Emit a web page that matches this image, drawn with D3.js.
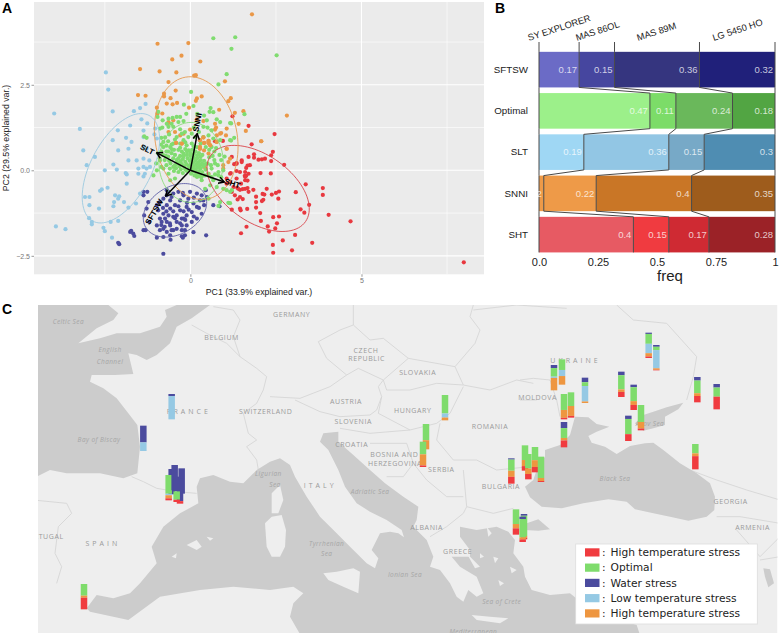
<!DOCTYPE html>
<html><head><meta charset="utf-8">
<script src="https://cdn.jsdelivr.net/npm/d3@7"></script>
<style>html,body{margin:0;padding:0;background:#fff}svg{display:block}text{font-family:"Liberation Sans",Arial,sans-serif}</style>
</head><body><svg id="c" width="783" height="635"></svg>
<script>
// ---------- Panel A data (PC1, PC2) ----------
const ptsSHT=[[2.41,.54],[2.36,.44],[1.86,.47],[1.99,.31],[2.09,.32],[2.18,.34],[2.36,.27],[2.74,.16],[1.86,.37],[1.74,.15],[1.67,.14],[1.63,.07],[1.35,.21],[1.28,.18],[1.5,.29],[1.21,.39],[1.35,-.02],[1.18,-.08],[2.05,-.08],[2.35,-.09],[1.59,-.16],[1.63,-.16],[1.67,-.3],[1.6,-.29],[1.35,-.24],[1.48,-.39],[1.67,-.52],[1.6,-.54],[1.53,-.55],[1.45,-.57],[1.37,-.51],[1.84,-.57],[2.23,-.54],[3.37,-.41],[3.87,-.52],[3.87,-.72],[3.08,-.64],[2.59,-.62],[2.5,-.66],[2.38,-.71],[2.11,-.69],[2.16,-.71],[1.92,-.77],[1.3,-.73],[1.38,-.85],[1.53,-.84],[1.92,-.93],[2.09,-.9],[2.13,-.86],[2.57,-.83],[1.21,-1.15],[1.47,-1.17],[1.66,-1.13],[1.92,-1.09],[2.04,-1.25],[3.22,-1.14],[3.33,-1.24],[3.47,-1.01],[4.04,-1.3],[4.68,-1.49],[2.59,-1.35],[2.42,-1.37],[2.06,-1.48],[2.53,-1.55],[2.26,-1.64],[2.48,-1.7],[2.3,-1.79],[1.64,-1.65],[1.48,-1.84],[3.06,-1.89],[2.7,-2.05],[3.56,-2.12],[2.41,-2.18],[2.97,-2.34],[2.42,-2.41],[7.99,-2.69],[1.23,1.58],[1.7,1.3],[2.46,1.06],[1.79,.76],[.72,.85],[.95,.86],[1.06,-.24],[1.16,-.1],[1.35,.19],[1.5,.24],[1.7,.39],[1.16,-.34],[1.26,-.49],[1.4,-.54],[1.45,-.05],[1.6,-.05],[1.7,-.1],[1.6,-.19],[1.06,-.39],[1.21,-.63],[1.45,-1.12],[1.45,-.78],[1.7,-.63]];
const ptsSNNI=[[-.96,3.7],[-.06,3.72],[-.53,3.24],[-.26,3.35],[.29,3.18],[-1.47,2.96],[-.9,2.89],[-.41,2.86],[.11,2.77],[.16,2.78],[-.64,2.58],[1.01,2.6],[-1.53,2.2],[-1.31,2.18],[-.43,2.33],[-.77,2.24],[-.77,2.16],[-.58,2.11],[.19,2.1],[.33,2.16],[.16,2.03],[1.18,2.11],[1.11,2.02],[-.69,1.95],[-.52,1.93],[-.39,1.97],[-.04,1.83],[.84,1.77],[1.55,1.73],[1.3,1.68],[-.98,1.83],[-.82,1.66],[-.96,1.66],[.72,1.36],[.75,1.25],[1.41,1.36],[1.62,1.15],[1.06,1.22],[.9,1.09],[.77,1.02],[1.04,1.02],[-.64,1.41],[-.45,1.12],[-.64,1.12],[.19,1.49],[.38,1.44],[.4,.8],[.53,.8],[.58,.73],[.28,.68],[.77,.83],[1.06,.63],[1.8,4.56],[2.82,1.6],[2.07,.85],[-.01,1.19],[-.2,1.07],[-.3,1.02],[-.25,.78],[-.42,.8],[.28,.88],[.38,.96],[.53,.86],[.28,.63],[.4,.58],[.53,.49],[.87,1.07],[.72,1.19],[1.16,.34],[1.11,.24],[.96,.15],[-.5,1.46],[-.64,1.38],[.43,.07],[.53,-.1],[.96,.05]];
const ptsOptimal=[[.67,3.86],[1.31,3.89],[1.2,3.55],[1.06,2.81],[.82,2.51],[.02,2.29],[2.52,3.36],[1.58,1.64],[1.19,1.37],[1.28,.95],[1.19,.87],[-.19,1.92],[.09,1.88],[.59,1.82],[.56,1.71],[.67,1.7],[-.94,1.71],[-.96,1.56],[-.81,1.46],[.48,1.46],[.77,1.49],[1.16,1.38],[.87,1.41],[-.82,1.25],[-.89,1.22],[-1.28,.95],[-1.35,.99],[-.64,1.51],[-.52,1.53],[-.4,1.56],[-.3,1.56],[-.55,1.36],[-.35,1.41],[-.2,1.44],[-.69,1.36],[-.64,1.27],[-.5,1.27],[-.74,.96],[-.79,.83],[-.4,.97],[-.25,1.07],[-.16,1.12],[-.06,.97],[.04,1.07],[.14,.97],[.38,1.27],[.62,1.17],[.53,1.02],[.67,.93],[.87,.88],[1.16,.88],[-.79,.68],[-.59,.68],[-.5,.78],[-.3,.78],[-.2,.88],[-.11,.73],[.04,.78],[.19,.68],[.38,.97],[-1.08,-.15],[-.98,0],[-.89,.29],[-.79,.05],[-.64,-.1],[-.5,.1],[-.59,-.29],[-.45,-.24],[-.35,.19],[.19,-.19],[.33,-.29],[.53,-.15],[.67,-.29],[.77,-.49],[.58,-.44],[.87,-.93],[.43,-.54],[1.06,-.58],[1.16,-.63],[1.16,-.96],[.96,0],[.82,-.15],[.53,-.83],[.82,-1.04],[1.11,-.95],[1.21,-.58],[.96,-.54],[-.35,.6],[-.25,.55],[-.15,.62],[-.05,.58],[.05,.6],[.15,.55],[.25,.5],[.35,.45],[-.3,.42],[-.2,.4],[-.1,.45],[0,.42],[.1,.38],[.2,.35],[.3,.3],[.4,.28],[-.4,.3],[-.28,.27],[-.15,.25],[-.02,.28],[.08,.22],[.18,.18],[.28,.15],[.38,.12],[.5,.2],[.6,.15],[.7,.3],[.65,.42],[.55,.38],[-.45,.15],[-.32,.12],[-.18,.1],[-.05,.12],[.05,.05],[.15,.02],[.25,-.02],[.35,-.05],[.45,.02],[-.6,.05],[-.48,-.02],[-.35,-.05],[-.22,-.08],[-.1,-.02],[.02,-.1],[.12,-.15],[.22,-.18],[.32,-.2],[.42,-.15],[.52,-.1],[.62,-.2],[.72,-.12],[.82,-.05],[.9,-.2],[.8,.15],[.9,.3],[1,.4],[.7,.55],[.55,.6],[-.55,.5],[-.65,.4],[-.75,.3],[-.8,.45],[-.9,.35],[-1,.2],[-.85,.1],[-.7,.15],[-.58,.2],[-.55,.62],[-.7,.55],[-.85,.55],[-.95,.5],[-.3,.66],[-.2,.49],[-.1,.55],[0,.5],[.1,.48],[.2,.44],[.3,.4],[-.35,.35],[-.22,.33],[-.08,.35],[.04,.32],[.14,.28],[.24,.24],[.34,.2],[.44,.18],[-.38,.22],[-.25,.18],[-.12,.18],[0,.18],[.1,.12],[.2,.08],[.3,.05],[-.42,.06],[-.28,.03],[-.15,.02],[-.02,.03],[.08,-.03],[.18,-.08],[.28,-.12],[-.5,.35],[-.62,.28],[-.72,.42],[-.65,.55],[-.45,.45],[-.48,.6],[-.55,.75],[-.65,.85],[-.45,.9],[-.15,.82],[.1,.7],[.3,.78],[.45,.68],[.62,.68],[.75,.65],[.62,.05],[.72,.2],[.85,.45],[-.85,.75],[-.7,.72],[-.62,1.05],[-.85,.95],[-.3,1.2],[.1,1.25],[.25,1.12],[.5,1.25],[.2,1.65],[.4,1.6],[-.12,1.65]];
const ptsSLT=[[-2.47,2.86],[-2.4,2.36],[-3.98,1.66],[-3.23,1.21],[-2.27,1.72],[-1.65,1.73],[-1.47,1.82],[-1.31,1.94],[-3.13,.58],[-2.12,1.17],[-1.43,1.49],[-1.26,1.37],[-1.76,1.31],[-1.37,1.16],[-1.05,1.05],[-1.03,1.22],[-2.27,.88],[-1.88,.95],[-1.72,.83],[-1.37,.97],[-1.37,.68],[-2.11,.58],[-1.81,.63],[-1.28,.63],[-.98,.93],[-2.79,.39],[-3.03,.15],[-2.25,.17],[-2.15,.02],[-2.5,0],[-1.81,.29],[-1.57,.29],[-1.37,.34],[-1.2,.29],[-1.52,.05],[-1.52,-.1],[-1.37,.1],[-1.28,.05],[-1.18,.1],[-1.33,-.1],[-1.37,-.18],[-1.89,-.08],[-1.86,-.12],[-2.42,-.51],[-2.59,-.56],[-2.64,-.6],[-1.86,-.39],[-2.2,-.73],[-2.08,-.76],[-2.11,-.83],[-2.23,-.93],[-2.25,-1.05],[-1.94,-.93],[-1.81,-1.09],[-3.08,-.78],[-2.95,-.78],[-2.95,-1.02],[-2.67,-1.12],[-1.59,-.97],[-1.47,-.68],[-2.96,-1.4],[-2.88,-1.51],[-2.88,-1.58],[-2.33,-1.51],[-2.11,-1.48],[-2.54,-1.68],[-2.5,-1.78],[-2.29,-1.97],[-3.93,-1.64],[-3.65,-1.72]];
const ptsSFTSW=[[-1.37,-.63],[-1.26,-.63],[-1.37,-.73],[-1.23,-.93],[-1.28,-1.12],[-1.35,-1.32],[-1.2,-1.51],[-1.37,-1.75],[-1.31,-1.75],[-1.73,-1.77],[-1.67,-1.85],[-1.64,-1.92],[-1.76,-1.8],[-2.11,-2.12],[-2.08,-2.16],[-.79,-2.44],[-.98,-1.97],[-.58,-2.03],[-.22,-1.97],[.46,-1.9],[.09,-1.81],[-.25,-1.93],[-.16,-1.9],[-.59,-1.9],[-.79,-1.95],[-.89,-1.75],[-.69,-1.8],[-.98,-1.61],[-.79,-1.71],[-.89,-1.41],[-.84,-1.51],[-.74,-1.41],[-.69,-1.51],[-.59,-1.61],[-.5,-1.75],[-.4,-1.71],[-.25,-1.75],[-.11,-1.61],[.04,-1.51],[.19,-1.41],[.33,-1.27],[.4,-1.02],[.28,-.88],[.19,-1.07],[.04,-1.22],[-.11,-1.32],[-.25,-1.41],[-.4,-1.51],[-.5,-1.36],[-.64,-1.32],[-.79,-1.27],[-.94,-1.17],[-.98,-1.02],[-.89,-.93],[-.79,-.83],[-.69,-.73],[-.59,-.88],[-.45,-1.02],[-.3,-.88],[-.2,-.73],[-.06,-.83],[.09,-.97],[-.11,-1.07],[-.59,-1.12],[-.5,-.68],[-.35,-.63],[-.22,-.66],[-.69,-1.02],[.19,-.68],[.33,-.73],[.38,-.88],[-.64,-.63],[-.55,-.78],[-.3,-1.17],[-.25,-1.61],[-.4,-1.32],[-.16,-1.75],[-.69,-.58],[-.01,-.63],[.48,-.78],[.67,-1.02],[.45,-.58],[.85,-1.05],[-.19,-1.41],[-.5,-1.2],[-.35,-1.05],[-.2,-1.2],[-.05,-1.15],[-.6,-1.55],[-.45,-1.4],[-.3,-1.55],[-.15,-1.45],[.1,-1.35],[-.8,-1.1],[-.7,-1.2],[.25,-1.1],[.1,-.8],[-.1,-.95],[-.75,-1.65],[-.55,-1.75],[-.85,-1.6]];
// ellipses: centre PC1, centre PC2, major, minor, angle
const ellSNNI=[.17,.94,1.81,1.2,100], ellSLT=[-2.03,.06,1.75,.88,62], ellSFTSW=[-.45,-1.17,.99,.7,30], ellSHT=[1.98,-.53,1.69,.98,-35], ellOptimal=[.02,.23,1.17,.94,90];
// loadings
const arrowNames=["SHT","SNNI","SLT","SFTSW"];
const arrowX=[.99,.2,-.98,-.72], arrowY=[-.34,1.07,.51,-.75];
const labelX=[1.23,.2,-1.26,-1.06], labelY=[-.38,1.40,.61,-1.21];
const labelAngle=[18,-79,27,-60];
const xTicksA=[0,5], yTicksA=[-2.5,0,2.5], xMinorA=[-2.5,2.5,7.5], yMinorA=[-1.25,1.25,3.75];
// ---------- Panel B data ----------
const rowsB=["SFTSW","Optimal","SLT","SNNI","SHT"];
const colsB=["SY EXPLORER","MAS 86OL","MAS 89M","LG 5450 HO"];
const valSYExplorer=[.17,.47,.19,.02,.4];
const valMAS86OL=[.15,.11,.36,.22,.15];
const valMAS89M=[.36,.24,.15,.4,.17];
const valLG5450HO=[.32,.18,.3,.35,.28];
const ticksB=[0,.25,.5,.75,1], tickLabelsB=["0.0","0.25","0.5","0.75","1"];
const topLabelAnchor=[.0,.169,.318,.685];
// ---------- Panel C data: sites in map-grid units, shares stacked top to bottom ----------
const stressKeys=["water","optimal","low","highO","highR"];
const siteX=[515,430,515,506,524,545,540,530,252,1335,1278,1269,1534,1575,1585,1605,1623,1662,1686,1692,1713,1692,1755,1864,1901,1885,1923,1946,1969,2092,2150,2086,1548,1572,1568];
const siteY=[282,377,507,525,495,505,535,530,852,285,372,425,475,436,462,441,470,195,178,282,277,366,233,215,254,347,315,98,135,231,252,432,628,642,650];
const shareWater=[.08,.66,1,0,1,1,.9,.58,0,0,0,0,.05,0,0,0,0,.12,0,0,0,.24,.18,.14,.1,.13,0,.05,.07,.14,.14,0,0,.07,.1];
const shareOptimal=[0,0,0,.74,0,0,0,.33,.46,.73,.64,.5,.44,.58,.57,.52,.84,.34,.42,.63,.54,.39,.15,.56,.55,.6,.67,.39,.13,.5,.36,.37,.58,.8,.72];
const shareLow=[.92,.34,0,.06,0,0,0,0,0,.16,0,0,0,0,0,0,0,.05,.24,0,0,0,.61,0,0,0,0,.37,.72,0,0,0,0,0,0];
const shareHighO=[0,0,0,.12,0,0,0,0,.08,.11,.36,.44,.24,.24,.22,.27,.12,.49,.34,.31,.39,.1,.06,.1,.15,0,.26,.13,.06,.11,0,.11,.17,.07,.08];
const shareHighR=[0,0,0,.08,0,0,.1,.09,.46,0,0,.06,.27,.18,.21,.21,.04,0,0,.06,.07,.27,0,.2,.2,.27,.07,.06,.02,.25,.5,.52,.25,.06,.1];
const legendLabels=["High temperature stress","Optimal","Water stress","Low temperature stress","High temperature stress"];
// map outlines in grid units
const seaAtlantic=[[100,0],[325,0],[325,15],[355,40],[340,60],[290,85],[235,130],[300,115],[350,100],[420,100],[480,80],[500,50],[495,30],[530,15],[540,0],[640,0],[630,15],[575,55],[530,80],[510,130],[470,165],[440,180],[410,165],[385,160],[400,222],[345,225],[275,225],[270,245],[310,265],[350,295],[385,340],[412,375],[420,440],[412,520],[370,535],[300,520],[200,520],[150,510],[100,535]];
const seaMed=[[595,610],[590,560],[600,535],[640,525],[690,545],[730,550],[770,510],[810,485],[840,475],[870,495],[885,530],[920,590],[960,650],[1010,700],[1060,750],[1100,790],[1125,805],[1135,775],[1115,750],[1140,700],[1170,695],[1195,700],[1212,712],[1205,690],[1160,660],[1110,635],[1070,610],[1035,560],[1015,510],[985,450],[960,425],[970,400],[1015,395],[1015,425],[1060,465],[1110,510],[1155,550],[1210,590],[1255,620],[1250,660],[1240,680],[1280,720],[1300,770],[1290,800],[1320,810],[1350,850],[1370,890],[1390,905],[1405,870],[1430,890],[1450,880],[1430,830],[1380,800],[1355,770],[1410,770],[1410,750],[1380,710],[1380,680],[1430,690],[1490,680],[1525,695],[1545,720],[1540,760],[1570,800],[1575,830],[1595,870],[1650,885],[1710,880],[1760,920],[1830,950],[1910,975],[1925,1020],[910,1020],[870,950],[880,910],[910,880],[880,860],[810,870],[700,860],[600,870],[480,890],[385,960],[270,935],[260,925],[290,885],[340,895],[390,880],[420,850],[470,790],[455,740],[490,680],[540,640]];
const seaBlack=[[1725,350],[1765,352],[1790,372],[1828,380],[1790,395],[1765,408],[1775,428],[1815,440],[1850,462],[1890,438],[1935,430],[1960,428],[1990,450],[2040,490],[2090,520],[2130,550],[2145,590],[2143,630],[2120,650],[2065,662],[2010,650],[1960,640],[1905,628],[1880,605],[1825,598],[1750,610],[1685,625],[1625,620],[1590,592],[1575,560],[1600,540],[1610,510],[1635,470],[1635,450],[1680,435],[1710,405]];
const seaAzov=[[1905,370],[1930,345],[1960,335],[2000,322],[2050,308],[2035,328],[1995,350],[1995,375],[1960,385],[1930,392]];
const seaMarmara=[[1580,670],[1615,658],[1650,688],[1615,692],[1575,690]];
const seaVan=[[2290,805],[2310,808],[2322,850],[2305,862],[2295,830]];
const islands=[[[795,670],[815,650],[845,645],[858,690],[855,740],[840,770],[815,770],[800,740]],[[815,580],[840,555],[850,600],[835,640],[815,640]],[[970,820],[1010,815],[1060,805],[1080,815],[1075,880],[1030,860],[985,840]],[[560,735],[590,720],[605,740],[590,750]],[[620,710],[640,715],[630,722]],[[515,770],[530,760],[528,775]],[[1415,945],[1470,950],[1525,955],[1500,970],[1430,960]],[[1460,680],[1475,700],[1465,710]],[[1480,770],[1495,775],[1485,790]],[[1530,800],[1550,810],[1535,820]],[[1440,760],[1452,770],[1440,775]],[[1495,840],[1512,850],[1500,858]],[[1400,760],[1440,800],[1425,805]]];
const borders=[[[395,530],[430,545],[470,565],[530,575],[590,580]],[[100,600],[200,610],[215,640],[175,680],[165,760],[185,800],[170,850]],[[575,75],[620,100],[680,130],[720,170],[770,205],[800,230]],[[640,20],[700,30],[720,60],[700,110],[720,170]],[[800,230],[790,270],[770,310],[730,340],[745,400],[770,420],[740,440],[770,480],[775,510]],[[955,125],[1020,90],[1060,75],[1110,120],[1150,115],[1225,175]],[[955,125],[980,175],[1040,225],[1075,205],[1150,240],[1225,175]],[[1060,75],[1060,15]],[[810,290],[900,295],[990,260],[1040,225]],[[1150,240],[1135,260],[1145,290],[1130,330],[1110,345],[1020,350],[960,335],[885,300]],[[1150,240],[1160,270],[1230,270],[1310,250],[1390,255],[1365,200],[1225,175]],[[1145,290],[1135,340],[1230,390],[1310,370],[1350,340],[1390,260]],[[1390,255],[1470,270],[1550,240],[1600,250]],[[1430,480],[1490,510],[1590,500]],[[1320,370],[1310,420],[1360,480],[1430,480]],[[1020,385],[1110,400],[1230,390]],[[1110,430],[1220,430],[1240,490],[1210,530],[1160,530]],[[1240,490],[1280,540],[1340,590],[1390,590]],[[1390,510],[1400,620],[1480,640],[1540,625]],[[1290,710],[1340,680],[1390,640],[1400,620]],[[1365,200],[1425,130],[1440,90],[1410,50],[1420,15]],[[1420,30],[1550,15],[1700,25]],[[1560,240],[1600,235],[1650,240],[1670,300],[1680,350]],[[1560,300],[1610,300]],[[1850,15],[1900,60],[2000,70],[2090,170],[2080,230],[2060,300]],[[2070,510],[2150,540],[2240,570],[2340,600]],[[2150,650],[2220,650],[2340,670]],[[2210,690],[2280,770],[2340,710]],[[2280,780],[2340,770]]];
const mapLabels=[["Celtic Sea",205,65,1],["English",330,150,1],["Channel",330,185,1],["BELGIUM",665,113,0],["F R A N C E",563,336,0],["Bay of Biscay",297,418,1],["S P A I N",305,730,0],["PORTUGAL",130,710,0],["SWITZERLAND",797,335,0],["Ligurian",805,520,1],["Sea",825,553,1],["GERMANY",875,44,0],["CZECH",1098,152,0],["REPUBLIC",1100,176,0],["SLOVAKIA",1253,219,0],["AUSTRIA",1038,306,0],["HUNGARY",1238,331,0],["SLOVENIA",1060,365,0],["CROATIA",1055,435,0],["BOSNIA AND",1183,464,0],["HERZEGOVINA",1185,490,0],["SERBIA",1324,508,0],["ROMANIA",1470,380,0],["BULGARIA",1503,561,0],["I T A L Y",957,558,0],["Adriatic Sea",1110,574,1],["ALBANIA",1280,684,0],["GREECE",1373,754,0],["Tyrrhenian",980,731,1],["Sea",980,760,1],["Ionian Sea",1215,823,1],["Sea of Crete",1505,905,1],["Mediterranean",1420,995,1],["U K R A I N E",1723,183,0],["MOLDOVA",1613,293,0],["Black Sea",1845,536,1],["Azov Sea",1950,371,1],["GEORGIA",2192,604,0],["ARMENIA",2258,682,0]];

// ---------- drawing ----------
const svg=d3.select("#c");
const defs=svg.append("defs");
const colR="#e8383f",colO="#ea9848",colB="#95c9e4",colN="#4b4b9e",colG="#80dc70";

// Panel A
const xA=d3.scaleLinear().domain([-4.57,8.58]).range([34,484]);
const yA=d3.scaleLinear().domain([-3.04,4.92]).range([274.3,2]);
const A=svg.append("g");
A.append("rect").attr("x",34).attr("y",2).attr("width",450).attr("height",272.3).attr("fill","#ebebeb");
xMinorA.forEach(v=>A.append("line").attr("x1",xA(v)).attr("x2",xA(v)).attr("y1",2).attr("y2",274.3).attr("stroke","#fff").attr("stroke-width",.6));
yMinorA.forEach(v=>A.append("line").attr("y1",yA(v)).attr("y2",yA(v)).attr("x1",34).attr("x2",484).attr("stroke","#fff").attr("stroke-width",.6));
xTicksA.forEach(v=>A.append("line").attr("x1",xA(v)).attr("x2",xA(v)).attr("y1",2).attr("y2",274.3).attr("stroke","#fff").attr("stroke-width",1.1));
yTicksA.forEach(v=>A.append("line").attr("y1",yA(v)).attr("y2",yA(v)).attr("x1",34).attr("x2",484).attr("stroke","#fff").attr("stroke-width",1.1));
const axX=A.append("g").attr("transform","translate(0,274.3)").call(d3.axisBottom(xA).tickValues(xTicksA).tickFormat(d3.format("d")).tickSize(2.5).tickPadding(1.5));
const axY=A.append("g").attr("transform","translate(34,0)").call(d3.axisLeft(yA).tickValues(yTicksA).tickFormat(d3.format(".1f")).tickSize(2.5).tickPadding(1.5));
[axX,axY].forEach(a=>{a.select(".domain").remove();a.selectAll("line").attr("stroke","#555").attr("stroke-width",.6);a.selectAll("text").attr("fill","#777").style("font-size","7px").style("font-family","Liberation Sans");});
function pts(arr,col){A.append("g").selectAll("circle").data(arr).join("circle").attr("cx",d=>xA(d[0])).attr("cy",d=>yA(d[1])).attr("r",2.1).attr("fill",col);}
pts(ptsSHT,colR);pts(ptsSLT,colB);pts(ptsSFTSW,colN);pts(ptsSNNI,colO);pts(ptsOptimal,colG);
pts(ptsSNNI.filter(d=>d[1]<1.0&&d[1]>.6),colO);
const lineA=d3.line().x(d=>xA(d[0])).y(d=>yA(d[1]));
function ell(e,col){const [cx,cy,a,b,t]=e,r=t*Math.PI/180;
 const p=d3.range(0,361,4).map(k=>{const u=k*Math.PI/180;return [cx+a*Math.cos(u)*Math.cos(r)-b*Math.sin(u)*Math.sin(r),cy+a*Math.cos(u)*Math.sin(r)+b*Math.sin(u)*Math.cos(r)];});
 A.append("path").attr("d",lineA(p)).attr("fill","none").attr("stroke",col).attr("stroke-width",.9);}
ell(ellSHT,"#d9434a");ell(ellSNNI,"#e59a50");ell(ellSLT,"#9cc9e0");ell(ellSFTSW,"#5f5fa8");ell(ellOptimal,"#8adb7c");
defs.append("marker").attr("id","ah").attr("viewBox","-6 -4 7 8").attr("refX",0).attr("refY",0).attr("markerWidth",7).attr("markerHeight",8).attr("markerUnits","userSpaceOnUse").attr("orient","auto")
 .append("path").attr("d","M-5.5,-3.2L0,0L-5.5,3.2").attr("fill","none").attr("stroke","#000").attr("stroke-width",1.5);
arrowNames.forEach((n,i)=>{
 A.append("line").attr("x1",xA(0)).attr("y1",yA(0)).attr("x2",xA(arrowX[i])).attr("y2",yA(arrowY[i])).attr("stroke","#000").attr("stroke-width",1.5).attr("marker-end","url(#ah)");
 A.append("text").attr("transform",`translate(${xA(labelX[i])},${yA(labelY[i])}) rotate(${labelAngle[i]})`).attr("text-anchor","middle").attr("dy","0.35em").attr("font-size",8).attr("font-weight","bold").attr("fill","#000").text(n);
});
A.append("text").attr("x",259).attr("y",294.5).attr("text-anchor","middle").attr("font-size",8.75).attr("fill","#222").text("PC1 (33.9% explained var.)");
A.append("text").attr("transform","translate(9,138) rotate(-90)").attr("text-anchor","middle").attr("font-size",8.75).attr("fill","#222").text("PC2 (29.5% explained var.)");
const letters=[["A",2,13],["B",495,13],["C",2,314]];
letters.forEach(l=>svg.append("text").attr("x",l[1]).attr("y",l[2]).attr("font-size",14).attr("font-weight","bold").attr("fill","#000").text(l[0]));

// Panel B
const xB=d3.scaleLinear().domain([0,1]).range([539,775]);
const yB=d3.scaleBand().domain(rowsB).range([49,255.25]).paddingInner(.137).paddingOuter(.0685);
const tableB=rowsB.map((r,i)=>({row:r,0:valSYExplorer[i],1:valMAS86OL[i],2:valMAS89M[i],3:valLG5450HO[i]}));
const stackB=d3.stack().keys([0,1,2,3]).offset(d3.stackOffsetExpand)(tableB);
const fillsB={SFTSW:["#6b6bc6","#46469f","#35357f","#20207a"],Optimal:["#9cf08a","#7cdc68","#6ab85b","#52a543"],SLT:["#9fd7f4","#92c6e4","#77a9c7","#4f8db2"],SNNI:["#ee9a48","#ee9a48","#c97626","#9e5c1c"],SHT:["#e75a63","#f03b40","#cf2a33","#9b2227"]};
const B=svg.append("g");
stackB.forEach((s,k)=>{
 B.append("g").selectAll("rect").data(s).join("rect").attr("x",d=>xB(d[0])).attr("width",d=>xB(d[1])-xB(d[0])).attr("y",d=>yB(d.data.row)).attr("height",yB.bandwidth()).attr("fill",d=>fillsB[d.data.row][k]);
});
const lineB=d3.line();
[0,1,2,3,4].forEach(k=>{
 const pos=r=>k===0?0:stackB[k-1][r][1];
 const pa=[];rowsB.forEach((n,r)=>{const x=xB(pos(r));pa.push([x,yB(n)],[x,yB(n)+yB.bandwidth()]);});
 B.append("path").attr("d",lineB([[pa[0][0],42]].concat(pa))).attr("fill","none").attr("stroke","#4a4a4a").attr("stroke-width",1);
});
const gv=B.append("g");
// the narrow first SNNI segment only has room for the last digit of its label, as in the source
const valueText=d=>{const t=String(d);return t==="0.02"?"2":t;};
stackB.forEach((s,k)=>{
 gv.append("g").selectAll("text").data(s).join("text").attr("x",d=>xB(d[1])-2).attr("y",d=>yB(d.data.row)+yB.bandwidth()/2).attr("dy","0.35em").attr("text-anchor","end").attr("font-size",9.5).attr("fill","#fff").attr("fill-opacity",.75).text(d=>valueText(d.data[k]));
});
const axBx=B.append("g").attr("transform","translate(0,254)").call(d3.axisBottom(xB).tickValues(ticksB).tickFormat((d,i)=>tickLabelsB[i]).tickSize(0).tickPadding(4));
const axBy=B.append("g").attr("transform","translate(539,0)").call(d3.axisLeft(yB).tickSize(0).tickPadding(11));
axBx.select(".domain").remove();axBy.select(".domain").remove();
axBx.selectAll("text").attr("fill","#222").style("font-size","11px").style("font-family","Liberation Sans");
axBy.selectAll("text").attr("fill","#222").style("font-size","9.8px").style("font-family","Liberation Sans");
B.append("text").attr("x",670).attr("y",281).attr("text-anchor","middle").attr("font-size",15).attr("fill","#222").text("freq");
colsB.forEach((c,i)=>{
 const off=[-10,-2,24,13][i];
 B.append("text").attr("transform",`translate(${xB(topLabelAnchor[i])+off},41) rotate(-18)`).attr("font-size",9.3).attr("fill","#222").text(c);
});

// Panel C
const gx=d3.scaleLinear().domain([0,2349]).range([0,783]);
const gy=d3.scaleLinear().domain([0,1005]).range([300,635]);
defs.append("clipPath").attr("id","clipC").append("rect").attr("x",38).attr("y",305).attr("width",739.5).attr("height",328);
const C=svg.append("g").attr("clip-path","url(#clipC)");
C.append("rect").attr("x",38).attr("y",305).attr("width",739.5).attr("height",328).attr("fill","#eeeeee");
const lineC=d3.line().x(d=>gx(d[0])).y(d=>gy(d[1]));
borders.forEach(b=>C.append("path").attr("d",lineC(b)).attr("fill","none").attr("stroke","#d6d6d6").attr("stroke-width",.9));
[seaAtlantic,seaMed,seaBlack,seaAzov,seaMarmara,seaVan].forEach(p=>C.append("path").attr("d",lineC(p)+"Z").attr("fill","#cccccc"));
islands.forEach(p=>C.append("path").attr("d",lineC(p)+"Z").attr("fill","#eeeeee"));
mapLabels.forEach(l=>C.append("text").attr("x",gx(l[1])).attr("y",gy(l[2])).attr("dy","0.35em").attr("text-anchor","middle").attr("font-size",l[3]?6.5:7).attr("font-style",l[3]?"italic":"normal").attr("letter-spacing",l[3]?.4:.6).attr("fill",l[3]?"#a6a6a6":"#9a9a9a").style("font-family","Open Sans").text(l[0]));
const sites=siteX.map((x,i)=>({x:x,y:siteY[i],water:shareWater[i],optimal:shareOptimal[i],low:shareLow[i],highO:shareHighO[i],highR:shareHighR[i],i:i}));
const stackC=d3.stack().keys(stressKeys)(sites);
const colC={water:colN,optimal:"#7fdc6c",low:colB,highO:"#ee9640",highR:"#f03b3f"};
const barH=d3.scaleLinear().domain([0,1]).range([0,76]);
const bw=6.5;
sites.forEach((s,i)=>{
 const g=C.append("g");
 stackC.forEach(layer=>{const d=layer[i];
  g.append("rect").attr("x",gx(s.x)-bw/2).attr("width",bw).attr("y",gy(s.y+barH(d[0]))).attr("height",Math.max(0,gy(s.y+barH(d[1]))-gy(s.y+barH(d[0])))).attr("fill",colC[layer.key]);
 });
});
// legend
const L=svg.append("g");
L.append("rect").attr("x",575.7).attr("y",544).attr("width",181.6).attr("height",80).attr("fill","#fff").attr("stroke","#dcdcdc").attr("stroke-width",.8);
const legendCols=["#f03b3f","#7fdc6c",colN,colB,"#ee9640"];
const legY=d3.scaleLinear().domain([0,4]).range([552.3,613.3]);
legendLabels.forEach((t,i)=>{
 L.append("rect").attr("x",585).attr("y",legY(i)-4).attr("width",14.5).attr("height",8.2).attr("fill",legendCols[i]);
 L.append("text").attr("x",602).attr("y",legY(i)).attr("dy","0.35em").attr("font-size",10.65).attr("fill","#222").style("font-family","DejaVu Sans").text(":");
 L.append("text").attr("x",610.5).attr("y",legY(i)).attr("dy","0.35em").attr("font-size",10.65).attr("fill","#222").style("font-family","DejaVu Sans").text(t);
});
</script></body></html>
